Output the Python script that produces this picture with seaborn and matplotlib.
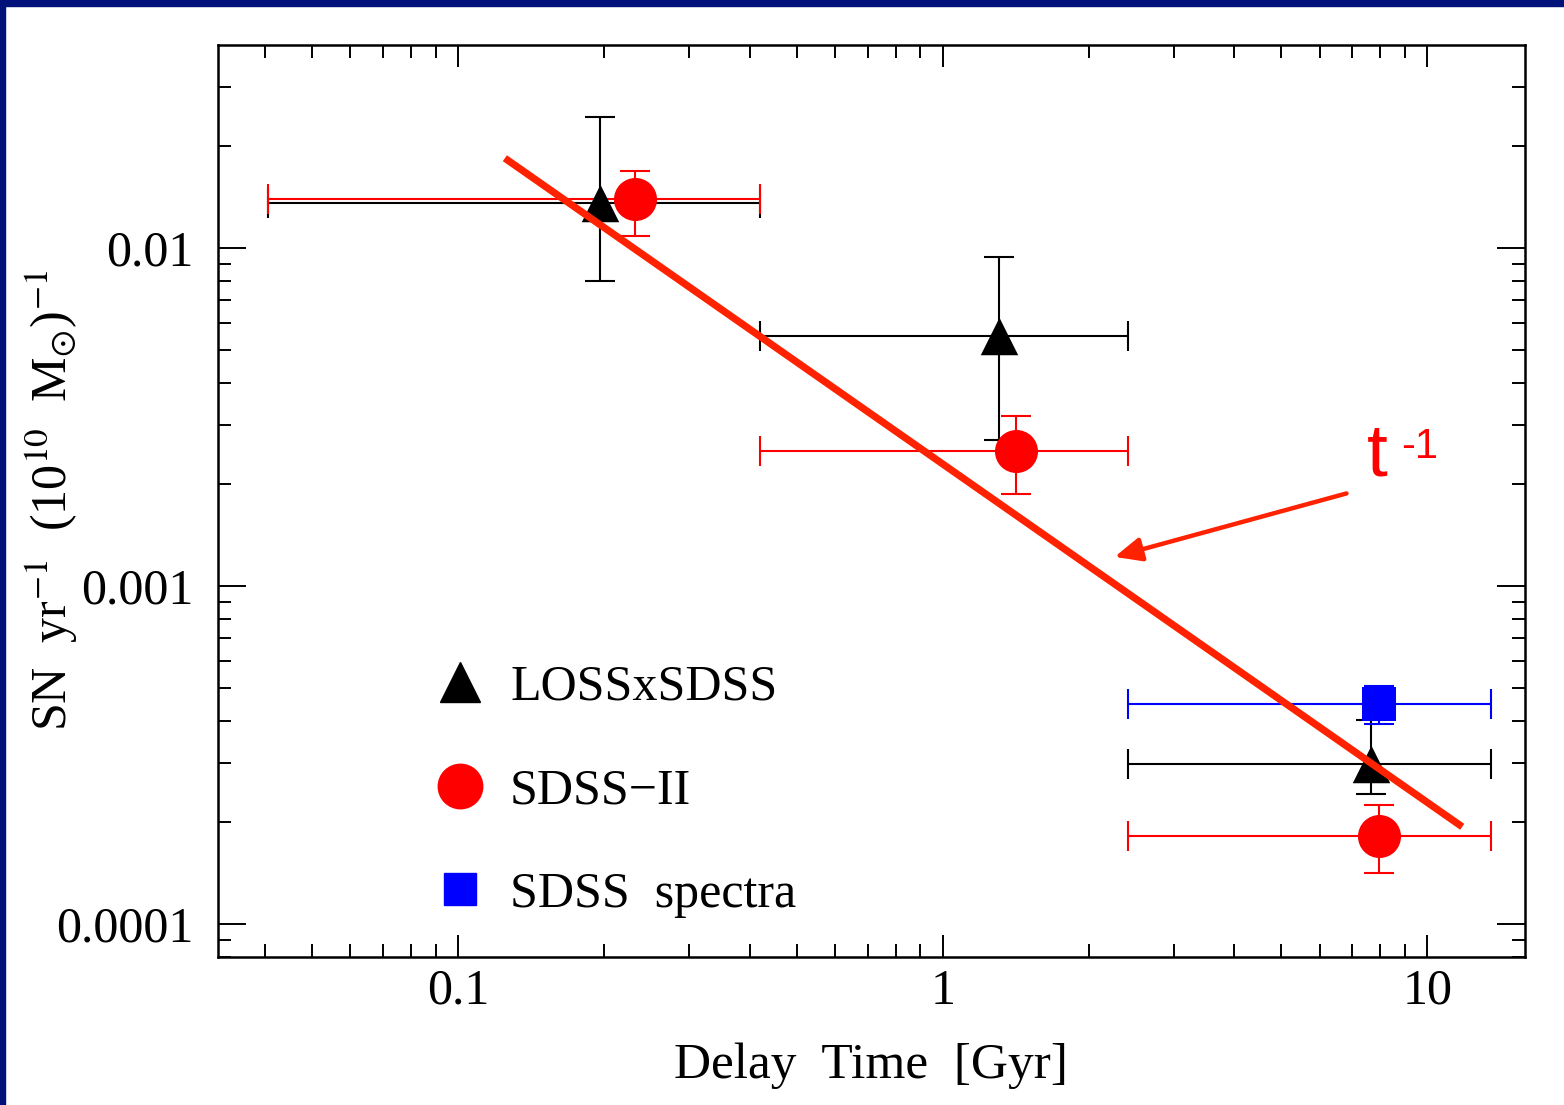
import numpy as np
import pandas as pd
import matplotlib
matplotlib.use("Agg")
import matplotlib.pyplot as plt
from matplotlib.lines import Line2D
from matplotlib.patches import Rectangle
from matplotlib.ticker import LogLocator, NullFormatter
import seaborn as sns

# ---------------- data ----------------
loss_t = [0.196, 1.31, 7.66]
loss_rate = [0.0136, 0.00549, 0.000297]
loss_t_lo = [0.0405, 0.42, 2.41]
loss_t_hi = [0.42, 2.41, 13.5]
loss_rate_lo = [0.00799, 0.0027, 0.000243]
loss_rate_hi = [0.0244, 0.0094, 0.000402]

sdss2_t = [0.232, 1.414, 7.96]
sdss2_rate = [0.01397, 0.00251, 0.000182]
sdss2_t_lo = [0.0405, 0.42, 2.41]
sdss2_t_hi = [0.42, 2.41, 13.5]
sdss2_rate_lo = [0.01085, 0.00187, 0.0001416]
sdss2_rate_hi = [0.0169, 0.00318, 0.000225]

spec_t = [7.96]
spec_rate = [0.000448]
spec_t_lo = [2.41]
spec_t_hi = [13.5]
spec_rate_lo = [0.000391]
spec_rate_hi = [0.000506]

fit_t = [0.125, 11.8]
fit_rate = [0.01845, 0.000194]

arrow_start = (6.81, 0.00188)
arrow_end = (2.263, 0.00122)

x_ticks = [0.1, 1, 10]
x_ticklabels = ["0.1", "1", "10"]
y_ticks = [1e-4, 1e-3, 1e-2]
y_ticklabels = ["0.0001", "0.001", "0.01"]
legend_labels = ["LOSSxSDSS", "SDSS\u2212II", "SDSS  spectra"]

# ---------------- style ----------------
sns.set_theme(style="ticks")
plt.rcParams["font.family"] = ["Liberation Serif", "DejaVu Serif"]
plt.rcParams["mathtext.fontset"] = "stix"
plt.rcParams["axes.linewidth"] = 1.8
for k in ["axes.edgecolor", "text.color", "axes.labelcolor", "xtick.color", "ytick.color"]:
    plt.rcParams[k] = "black"

W, H = 1564, 1105
fig = plt.figure(figsize=(W / 100, H / 100), dpi=100)
fig.patch.set_facecolor("white")
ax = fig.add_axes([218 / W, 1 - 957 / H, (1525 - 218) / W, (957 - 45) / H])
ax.set_facecolor("white")

RED = "#ff0000"
LINE_RED = "#ff2200"
BLUE = "#0000ff"


def draw_series(t, r, tlo, thi, rlo, rhi, color, marker, size):
    t = np.array(t); r = np.array(r)
    xerr = np.vstack([t - np.array(tlo), np.array(thi) - t])
    yerr = np.vstack([r - np.array(rlo), np.array(rhi) - r])
    ax.errorbar(t, r, xerr=xerr, yerr=yerr, fmt="none", ecolor=color,
                elinewidth=1.5, capsize=10.5, capthick=1.5, zorder=2)
    df = pd.DataFrame({"t": t, "rate": r})
    sns.scatterplot(data=df, x="t", y="rate", ax=ax, marker=marker, s=size ** 2,
                    color=color, edgecolor=color, linewidth=0, zorder=3, legend=False)


draw_series(loss_t, loss_rate, loss_t_lo, loss_t_hi, loss_rate_lo, loss_rate_hi,
            "black", "^", 27)
draw_series(sdss2_t, sdss2_rate, sdss2_t_lo, sdss2_t_hi, sdss2_rate_lo, sdss2_rate_hi,
            RED, "o", 31)
draw_series(spec_t, spec_rate, spec_t_lo, spec_t_hi, spec_rate_lo, spec_rate_hi,
            BLUE, "s", 24)

fit_df = pd.DataFrame({"t": fit_t, "rate": fit_rate})
sns.lineplot(data=fit_df, x="t", y="rate", ax=ax, color=LINE_RED, lw=5.2,
             zorder=4, solid_capstyle="butt")

ax.annotate("", xy=arrow_end, xytext=arrow_start,
            arrowprops=dict(arrowstyle="-|>,head_length=0.9,head_width=0.4",
                            color=LINE_RED, lw=3.2, mutation_scale=18,
                            shrinkA=0, shrinkB=0), zorder=4)
ax.text(7.52, 0.00213, "t", color=RED, fontsize=54, family="Liberation Sans",
        ha="left", va="baseline", zorder=5)
ax.text(8.84, 0.00296, "-1", color=RED, fontsize=30, family="Liberation Sans",
        ha="left", va="top", zorder=5)

ax.set_xscale("log")
ax.set_yscale("log")
ax.set_xlim(0.032, 15.9)
ax.set_ylim(7.99e-5, 0.0399)

ax.set_xticks(x_ticks, labels=x_ticklabels)
ax.set_yticks(y_ticks, labels=y_ticklabels)
ax.xaxis.set_minor_locator(LogLocator(base=10, subs=np.arange(2, 10)))
ax.yaxis.set_minor_locator(LogLocator(base=10, subs=np.arange(2, 10)))
ax.xaxis.set_minor_formatter(NullFormatter())
ax.yaxis.set_minor_formatter(NullFormatter())

ax.tick_params(which="both", direction="in", top=True, right=True,
               width=1.4, color="black", labelsize=36, labelcolor="black")
ax.tick_params(axis="x", which="major", length=16, pad=8)
ax.tick_params(axis="y", which="major", length=20, pad=18)
ax.tick_params(which="minor", length=9.5)

ax.set_xlabel("Delay  Time  [Gyr]", fontsize=37, labelpad=20)
ax.set_ylabel(r"SN  yr$^{-1}$  (10$^{10}$  M$_{\odot}$)$^{-1}$", fontsize=36)
ax.yaxis.set_label_coords((80 - 218) / (1525 - 218), 0.5)

handles = [
    Line2D([], [], ls="none", marker="^", ms=29, color="black", mec="black"),
    Line2D([], [], ls="none", marker="o", ms=32, color=RED, mec=RED),
    Line2D([], [], ls="none", marker="s", ms=23, color=BLUE, mec=BLUE),
]
ax.legend(handles, legend_labels, loc="upper left",
          bbox_to_anchor=(435 / W, 1 - 664 / H), bbox_transform=fig.transFigure,
          frameon=False, fontsize=36, handlelength=1.0, handletextpad=0.5,
          labelspacing=1.14, borderpad=0, borderaxespad=0)

# navy frame edges
NAVY = "#00127a"
fig.patches.append(Rectangle((0, 0), 5 / W, 1, transform=fig.transFigure,
                             color=NAVY, zorder=10))
fig.patches.append(Rectangle((0, 1 - 6 / H), 1, 6 / H, transform=fig.transFigure,
                             color=NAVY, zorder=10))

fig.savefig("out.png", dpi=100, facecolor="white")
